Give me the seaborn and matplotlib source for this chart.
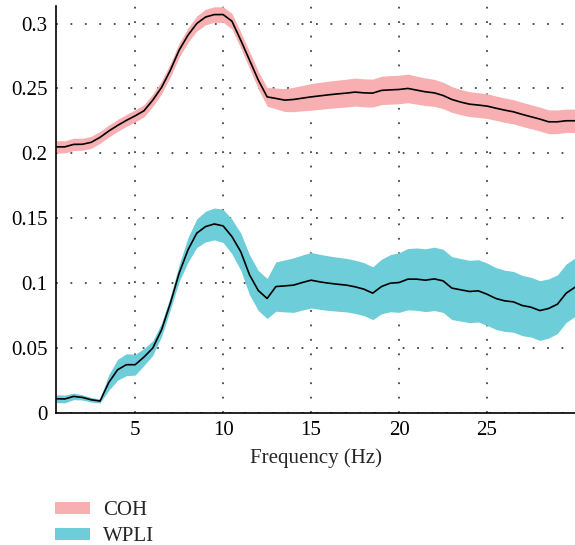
import numpy as np
import pandas as pd
import matplotlib
matplotlib.use("Agg")
import matplotlib.pyplot as plt
from matplotlib.patches import Patch
import seaborn as sns

# frequency axis, 0.5 Hz steps
freq = np.arange(1, 61) * 0.5

coh_mean = [0.205, 0.205, 0.2069, 0.207, 0.2085, 0.2123, 0.2172, 0.2215, 0.2254, 0.2289,
            0.2328, 0.241, 0.2508, 0.264, 0.2795, 0.291, 0.300, 0.305, 0.3069, 0.3069,
            0.3018, 0.2872, 0.2718, 0.2564, 0.2435, 0.2423, 0.241, 0.2415, 0.2425, 0.2435,
            0.2443, 0.2451, 0.2458, 0.2464, 0.2472, 0.2466, 0.2464, 0.2485, 0.2489, 0.2492,
            0.2500, 0.2487, 0.2474, 0.2466, 0.2446, 0.2415, 0.2395, 0.2379, 0.2372, 0.2364,
            0.2348, 0.2333, 0.232, 0.2300, 0.2282, 0.2264, 0.2243, 0.2243, 0.2251, 0.2251]
coh_err = [0.0047, 0.0047, 0.0047, 0.0046, 0.0046, 0.0046, 0.0046, 0.0046, 0.0046, 0.0046,
           0.0047, 0.0048, 0.005, 0.0052, 0.0054, 0.0056, 0.0058, 0.006, 0.006, 0.006,
           0.006, 0.0062, 0.0065, 0.0068, 0.0072, 0.008, 0.0088, 0.0094, 0.0098, 0.0103,
           0.0104, 0.0105, 0.0106, 0.0107, 0.0108, 0.0108, 0.0108, 0.0109, 0.011, 0.011,
           0.011, 0.0108, 0.0106, 0.0104, 0.0102, 0.0099, 0.0097, 0.0096, 0.0095, 0.0095,
           0.0094, 0.0094, 0.0093, 0.0093, 0.0092, 0.0092, 0.0092, 0.0091, 0.009, 0.009]

wpli_mean = [0.011, 0.0108, 0.0128, 0.012, 0.0102, 0.0092, 0.0235, 0.0333, 0.0372, 0.0372,
             0.0431, 0.05, 0.0641, 0.0846, 0.1077, 0.1256, 0.1385, 0.1436, 0.1456, 0.1441,
             0.1359, 0.1243, 0.1064, 0.0943, 0.0882, 0.0974, 0.0979, 0.0985, 0.1005, 0.1023,
             0.101, 0.1, 0.0992, 0.0985, 0.0972, 0.0954, 0.0923, 0.0974, 0.1, 0.1005,
             0.1031, 0.1031, 0.1023, 0.1033, 0.1018, 0.0962, 0.0949, 0.0936, 0.0941, 0.0915,
             0.0882, 0.0864, 0.0856, 0.0828, 0.0815, 0.0789, 0.0805, 0.0838, 0.0923, 0.0969]
wpli_err = [0.003, 0.003, 0.0025, 0.002, 0.0018, 0.0015, 0.006, 0.008, 0.0085, 0.008,
            0.0065, 0.0056, 0.0052, 0.005, 0.0065, 0.0095, 0.011, 0.0118, 0.0123, 0.0128,
            0.0133, 0.0143, 0.0154, 0.0154, 0.0154, 0.019, 0.02, 0.021, 0.0212, 0.0214,
            0.0212, 0.021, 0.0208, 0.0206, 0.0205, 0.0204, 0.0203, 0.021, 0.022, 0.023,
            0.0236, 0.024, 0.0242, 0.0244, 0.0243, 0.0242, 0.0241, 0.024, 0.024, 0.024,
            0.0238, 0.0236, 0.0234, 0.0232, 0.023, 0.023, 0.0228, 0.0226, 0.0225, 0.0225]

series_names = ["COH", "WPLI"]
band_colors = ["#F8AFB1", "#6DCDD9"]

df = pd.DataFrame({
    "freq": np.concatenate([freq, freq]),
    "value": coh_mean + wpli_mean,
    "err": coh_err + wpli_err,
    "measure": ["COH"] * len(freq) + ["WPLI"] * len(freq),
})

sns.set_style("white")
plt.rcParams["font.family"] = ["Liberation Serif", "DejaVu Serif"]
plt.rcParams["font.size"] = 15

fig = plt.figure(figsize=(5.75, 5.45), dpi=100)
ax = fig.add_axes([56 / 575, 1 - 413 / 545, 519 / 575, 407 / 545])

for name, color in zip(series_names, band_colors):
    sub = df[df["measure"] == name]
    ax.fill_between(sub["freq"], sub["value"] - sub["err"], sub["value"] + sub["err"],
                    color=color, linewidth=0, zorder=2)
    sns.lineplot(data=sub, x="freq", y="value", color="black", linewidth=1.2,
                 ax=ax, zorder=3, legend=False)

ax.set_xlim(0.5, 30)
ax.set_ylim(0, 0.3135)
ax.set_xticks([5, 10, 15, 20, 25])
ax.set_yticks([0, 0.05, 0.1, 0.15, 0.2, 0.25, 0.3])
ax.set_yticklabels(["0", "0.05", "0.1", "0.15", "0.2", "0.25", "0.3"])
ax.grid(True, color="#444444", linestyle=(0, (1, 7)), linewidth=1.3, zorder=1)
ax.set_axisbelow(True)
ax.tick_params(direction="in", length=4, width=1, colors="black", labelsize=15, pad=6)
for side in ["top", "right"]:
    ax.spines[side].set_visible(False)
for side in ["left", "bottom"]:
    ax.spines[side].set_color("black")
    ax.spines[side].set_linewidth(1.2)
ax.set_xlabel("Frequency (Hz)", fontsize=15, labelpad=6)
ax.set_ylabel("")

handles = [Patch(facecolor=c, edgecolor="none", label=n) for n, c in zip(series_names, band_colors)]
fig.legend(handles=handles, loc="upper left", bbox_to_anchor=(55 / 575, 1 - 501 / 545),
           frameon=False, borderpad=0, borderaxespad=0, handlelength=1.7, handleheight=0.5,
           handletextpad=0.6, labelspacing=0.35, fontsize=15)

fig.savefig("out.png", dpi=100)
